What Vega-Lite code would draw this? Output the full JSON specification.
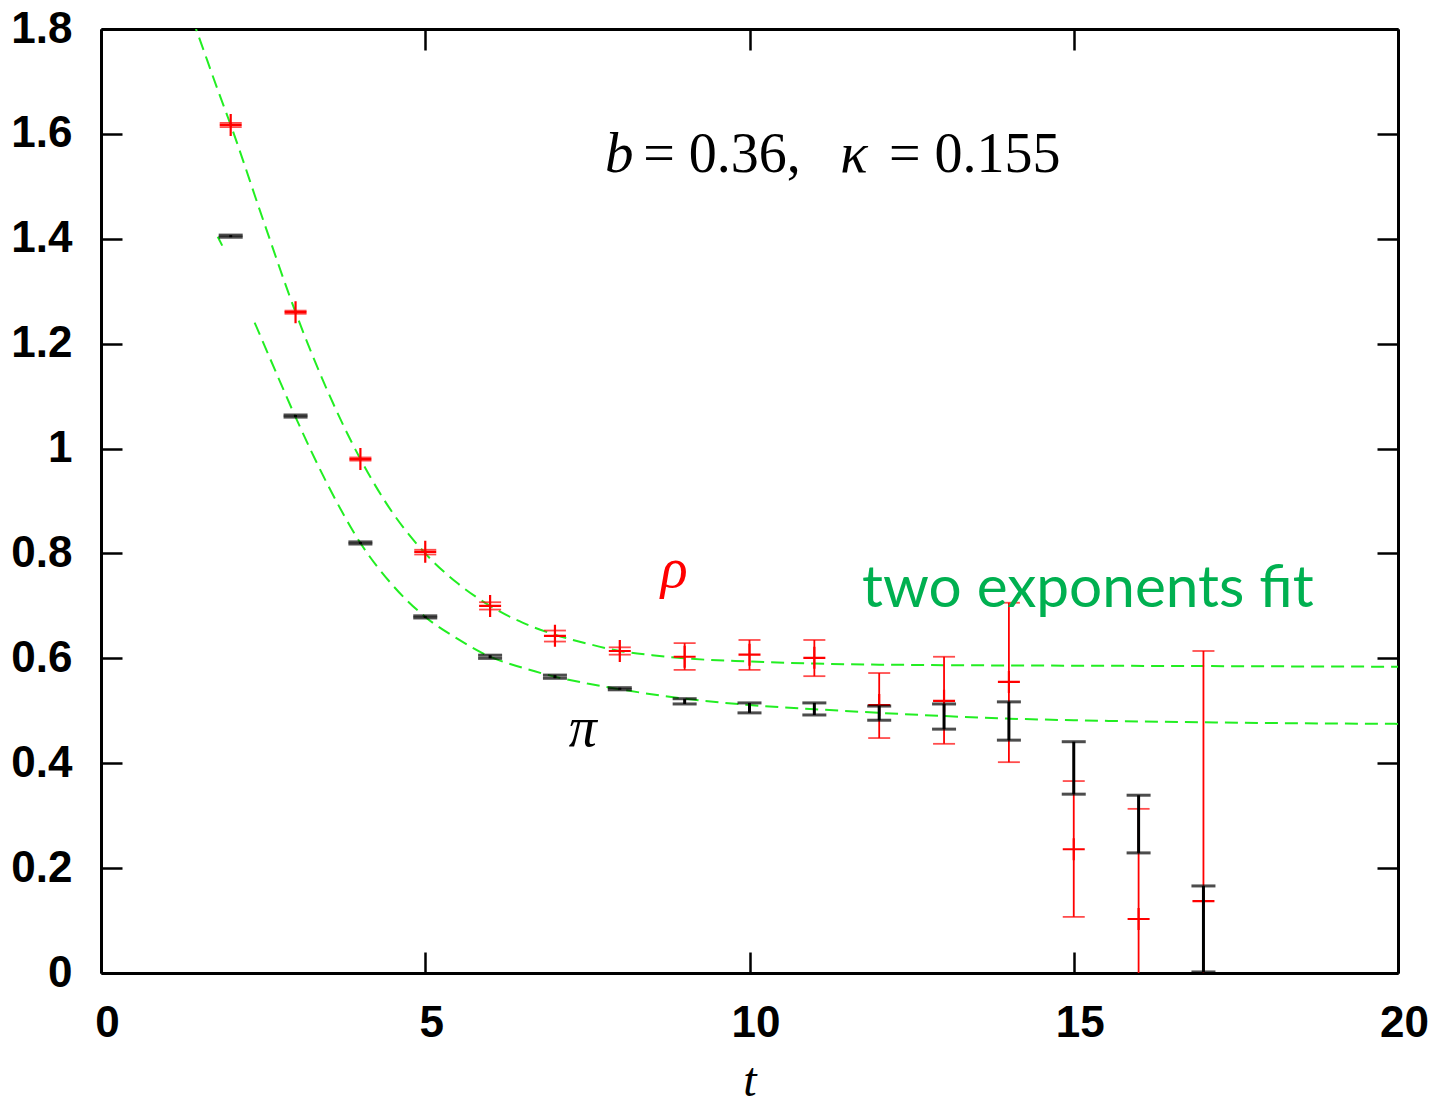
{
  "$schema": "https://vega.github.io/schema/vega-lite/v6.json",
  "width": 1297,
  "height": 944,
  "autosize": "none",
  "padding": {"left": 101, "top": 29, "right": 37, "bottom": 129},
  "background": "white",
  "config": {
    "view": {"stroke": null},
    "axis": {
      "grid": false,
      "domainColor": "black",
      "domainWidth": 3,
      "tickColor": "black",
      "tickWidth": 2.5,
      "tickSize": -21,
      "labelFont": "Liberation Sans",
      "labelFontWeight": "bold",
      "labelFontSize": 44,
      "labelColor": "black",
      "labelFlush": false,
      "labelOverlap": false
    }
  },
  "datasets": {
    "rho": [
      {"t": 2, "v": 1.617, "lo": 1.613, "hi": 1.621},
      {"t": 3, "v": 1.260, "lo": 1.257, "hi": 1.263},
      {"t": 4, "v": 0.980, "lo": 0.977, "hi": 0.983},
      {"t": 5, "v": 0.803, "lo": 0.798, "hi": 0.807},
      {"t": 6, "v": 0.700, "lo": 0.693, "hi": 0.707},
      {"t": 7, "v": 0.643, "lo": 0.632, "hi": 0.653},
      {"t": 8, "v": 0.614, "lo": 0.607, "hi": 0.621},
      {"t": 9, "v": 0.603, "lo": 0.578, "hi": 0.629},
      {"t": 10, "v": 0.607, "lo": 0.578, "hi": 0.635},
      {"t": 11, "v": 0.601, "lo": 0.566, "hi": 0.635},
      {"t": 12, "v": 0.511, "lo": 0.448, "hi": 0.572},
      {"t": 13, "v": 0.519, "lo": 0.437, "hi": 0.603},
      {"t": 14, "v": 0.555, "lo": 0.402, "hi": 0.706},
      {"t": 15, "v": 0.236, "lo": 0.107, "hi": 0.366},
      {"t": 16, "v": 0.103, "lo": -0.107, "hi": 0.313},
      {"t": 17, "v": 0.137, "lo": -0.340, "hi": 0.614}
    ],
    "pi": [
      {"t": 2, "v": 1.405, "lo": 1.403, "hi": 1.407},
      {"t": 3, "v": 1.062, "lo": 1.060, "hi": 1.064},
      {"t": 4, "v": 0.820, "lo": 0.818, "hi": 0.822},
      {"t": 5, "v": 0.679, "lo": 0.677, "hi": 0.681},
      {"t": 6, "v": 0.603, "lo": 0.600, "hi": 0.606},
      {"t": 7, "v": 0.565, "lo": 0.562, "hi": 0.568},
      {"t": 8, "v": 0.542, "lo": 0.540, "hi": 0.544},
      {"t": 9, "v": 0.518, "lo": 0.513, "hi": 0.523},
      {"t": 10, "v": 0.505, "lo": 0.496, "hi": 0.515},
      {"t": 11, "v": 0.503, "lo": 0.492, "hi": 0.515},
      {"t": 12, "v": 0.496, "lo": 0.482, "hi": 0.509},
      {"t": 13, "v": 0.489, "lo": 0.465, "hi": 0.513},
      {"t": 14, "v": 0.480, "lo": 0.444, "hi": 0.517},
      {"t": 15, "v": 0.391, "lo": 0.341, "hi": 0.441},
      {"t": 16, "v": 0.284, "lo": 0.229, "hi": 0.339},
      {"t": 17, "v": 0.084, "lo": 0.002, "hi": 0.166}
    ],
    "fits": [
      {"seg": "rho", "t": 1.3, "v": 1.855},
      {"seg": "rho", "t": 1.465, "v": 1.800},
      {"seg": "rho", "t": 1.8, "v": 1.684},
      {"seg": "rho", "t": 2.0, "v": 1.617},
      {"seg": "rho", "t": 2.5, "v": 1.436},
      {"seg": "rho", "t": 3.0, "v": 1.260},
      {"seg": "rho", "t": 3.5, "v": 1.108},
      {"seg": "rho", "t": 4.0, "v": 0.980},
      {"seg": "rho", "t": 4.5, "v": 0.877},
      {"seg": "rho", "t": 5.0, "v": 0.800},
      {"seg": "rho", "t": 5.5, "v": 0.743},
      {"seg": "rho", "t": 6.0, "v": 0.700},
      {"seg": "rho", "t": 6.5, "v": 0.668},
      {"seg": "rho", "t": 7.0, "v": 0.645},
      {"seg": "rho", "t": 7.5, "v": 0.628},
      {"seg": "rho", "t": 8.0, "v": 0.614},
      {"seg": "rho", "t": 8.5, "v": 0.606},
      {"seg": "rho", "t": 9.0, "v": 0.600},
      {"seg": "rho", "t": 10.0, "v": 0.594},
      {"seg": "rho", "t": 11.0, "v": 0.590},
      {"seg": "rho", "t": 12.0, "v": 0.588},
      {"seg": "rho", "t": 13.0, "v": 0.587},
      {"seg": "rho", "t": 15.0, "v": 0.586},
      {"seg": "rho", "t": 17.5, "v": 0.585},
      {"seg": "rho", "t": 20.0, "v": 0.584},
      {"seg": "piA", "t": 1.80, "v": 1.404},
      {"seg": "piA", "t": 1.87, "v": 1.387},
      {"seg": "piB", "t": 2.37, "v": 1.240},
      {"seg": "piB", "t": 2.7, "v": 1.145},
      {"seg": "piB", "t": 3.0, "v": 1.060},
      {"seg": "piB", "t": 3.5, "v": 0.930},
      {"seg": "piB", "t": 4.0, "v": 0.820},
      {"seg": "piB", "t": 4.5, "v": 0.739},
      {"seg": "piB", "t": 5.0, "v": 0.679},
      {"seg": "piB", "t": 5.5, "v": 0.637},
      {"seg": "piB", "t": 6.0, "v": 0.603},
      {"seg": "piB", "t": 6.5, "v": 0.582},
      {"seg": "piB", "t": 7.0, "v": 0.565},
      {"seg": "piB", "t": 7.5, "v": 0.552},
      {"seg": "piB", "t": 8.0, "v": 0.541},
      {"seg": "piB", "t": 9.0, "v": 0.523},
      {"seg": "piB", "t": 10.0, "v": 0.511},
      {"seg": "piB", "t": 11.0, "v": 0.503},
      {"seg": "piB", "t": 12.0, "v": 0.496},
      {"seg": "piB", "t": 13.0, "v": 0.490},
      {"seg": "piB", "t": 14.0, "v": 0.485},
      {"seg": "piB", "t": 15.0, "v": 0.482},
      {"seg": "piB", "t": 17.0, "v": 0.478},
      {"seg": "piB", "t": 20.0, "v": 0.475}
    ]
  },
  "resolve": {"axis": {"x": "independent", "y": "independent"}},
  "layer": [
    {
      "data": {"name": "fits"},
      "mark": {"type": "line", "color": "#22ee22", "strokeWidth": 2, "strokeDash": [13, 7], "clip": true, "interpolate": "monotone"},
      "encoding": {
        "x": {"field": "t", "type": "quantitative", "scale": {"domain": [0, 20], "nice": false, "zero": false},
              "axis": {"orient": "bottom", "values": [0, 5, 10, 15, 20], "title": "t", "titleFont": "Liberation Serif", "titleFontStyle": "italic", "titleFontWeight": "normal", "titleFontSize": 48, "titleColor": "black", "titlePadding": 12, "labelPadding": 49, "labelOffset": 6}},
        "y": {"field": "v", "type": "quantitative", "scale": {"domain": [0, 1.8], "nice": false, "zero": false},
              "axis": {"orient": "left", "values": [0, 0.2, 0.4, 0.6, 0.8, 1, 1.2, 1.4, 1.6, 1.8], "format": "~g", "title": null, "labelPadding": 50}},
        "detail": {"field": "seg"}
      }
    },
    {
      "data": {"name": "fits"},
      "mark": {"type": "point", "opacity": 0},
      "encoding": {
        "x": {"field": "t", "type": "quantitative", "axis": {"orient": "top", "values": [0, 5, 10, 15, 20], "labels": false, "title": null}},
        "y": {"field": "v", "type": "quantitative", "axis": {"orient": "right", "values": [0, 0.2, 0.4, 0.6, 0.8, 1, 1.2, 1.4, 1.6, 1.8], "labels": false, "title": null}}
      }
    },
    {
      "data": {"name": "rho"},
      "mark": {"type": "rule", "color": "#ff0000", "strokeWidth": 1.8, "clip": true},
      "encoding": {"x": {"field": "t", "type": "quantitative", "axis": null}, "y": {"field": "lo", "type": "quantitative", "axis": null}, "y2": {"field": "hi"}}
    },
    {
      "data": {"name": "rho"},
      "mark": {"type": "tick", "orient": "horizontal", "color": "#ff0000", "size": 22, "thickness": 1.8, "clip": true},
      "encoding": {"x": {"field": "t", "type": "quantitative", "axis": null}, "y": {"field": "lo", "type": "quantitative", "axis": null}}
    },
    {
      "data": {"name": "rho"},
      "mark": {"type": "tick", "orient": "horizontal", "color": "#ff0000", "size": 22, "thickness": 1.8, "clip": true},
      "encoding": {"x": {"field": "t", "type": "quantitative", "axis": null}, "y": {"field": "hi", "type": "quantitative", "axis": null}}
    },
    {
      "data": {"name": "rho"},
      "mark": {"type": "point", "shape": "M-1,0H1M0,-1V1", "filled": false, "stroke": "#ff0000", "strokeWidth": 2.2, "size": 484, "opacity": 1, "clip": true},
      "encoding": {"x": {"field": "t", "type": "quantitative", "axis": null}, "y": {"field": "v", "type": "quantitative", "axis": null}}
    },
    {
      "data": {"name": "pi"},
      "mark": {"type": "rule", "color": "black", "strokeWidth": 3, "clip": true},
      "encoding": {"x": {"field": "t", "type": "quantitative", "axis": null}, "y": {"field": "lo", "type": "quantitative", "axis": null}, "y2": {"field": "hi"}}
    },
    {
      "data": {"name": "pi"},
      "mark": {"type": "tick", "orient": "horizontal", "color": "black", "size": 24, "thickness": 3, "clip": true},
      "encoding": {"x": {"field": "t", "type": "quantitative", "axis": null}, "y": {"field": "lo", "type": "quantitative", "axis": null}}
    },
    {
      "data": {"name": "pi"},
      "mark": {"type": "tick", "orient": "horizontal", "color": "black", "size": 24, "thickness": 3, "clip": true},
      "encoding": {"x": {"field": "t", "type": "quantitative", "axis": null}, "y": {"field": "hi", "type": "quantitative", "axis": null}}
    },
    {
      "data": {"values": [
        {"t": 8.36, "v": 1.528, "s": "= 0.36,"},
        {"t": 12.15, "v": 1.528, "s": "= 0.155"}
      ]},
      "mark": {"type": "text", "font": "Liberation Serif", "fontSize": 56, "align": "left", "baseline": "alphabetic", "color": "black"},
      "encoding": {"x": {"field": "t", "type": "quantitative", "axis": null}, "y": {"field": "v", "type": "quantitative", "axis": null}, "text": {"field": "s"}}
    },
    {
      "data": {"values": [
        {"t": 7.77, "v": 1.528, "s": "b"},
        {"t": 11.40, "v": 1.528, "s": "κ"}
      ]},
      "mark": {"type": "text", "font": "Liberation Serif", "fontStyle": "italic", "fontSize": 57, "align": "left", "baseline": "alphabetic", "color": "black"},
      "encoding": {"x": {"field": "t", "type": "quantitative", "axis": null}, "y": {"field": "v", "type": "quantitative", "axis": null}, "text": {"field": "s"}}
    },
    {
      "data": {"values": [{"t": 8.84, "v": 0.736, "s": "ρ"}]},
      "mark": {"type": "text", "font": "Liberation Serif", "fontStyle": "italic", "fontSize": 56, "align": "center", "baseline": "alphabetic", "color": "#ff0000"},
      "encoding": {"x": {"field": "t", "type": "quantitative", "axis": null}, "y": {"field": "v", "type": "quantitative", "axis": null}, "text": {"field": "s"}}
    },
    {
      "data": {"values": [{"t": 7.43, "v": 0.433, "s": "π"}]},
      "mark": {"type": "text", "font": "Liberation Serif", "fontStyle": "italic", "fontSize": 56, "align": "center", "baseline": "alphabetic", "color": "black"},
      "encoding": {"x": {"field": "t", "type": "quantitative", "axis": null}, "y": {"field": "v", "type": "quantitative", "axis": null}, "text": {"field": "s"}}
    },
    {
      "data": {"values": [{"t": 11.735, "v": 0.698, "s": "two exponents fit"}]},
      "mark": {"type": "text", "font": "Lato", "fontSize": 58.5, "align": "left", "baseline": "alphabetic", "color": "#00b050"},
      "encoding": {"x": {"field": "t", "type": "quantitative", "axis": null}, "y": {"field": "v", "type": "quantitative", "axis": null}, "text": {"field": "s"}}
    }
  ]
}
